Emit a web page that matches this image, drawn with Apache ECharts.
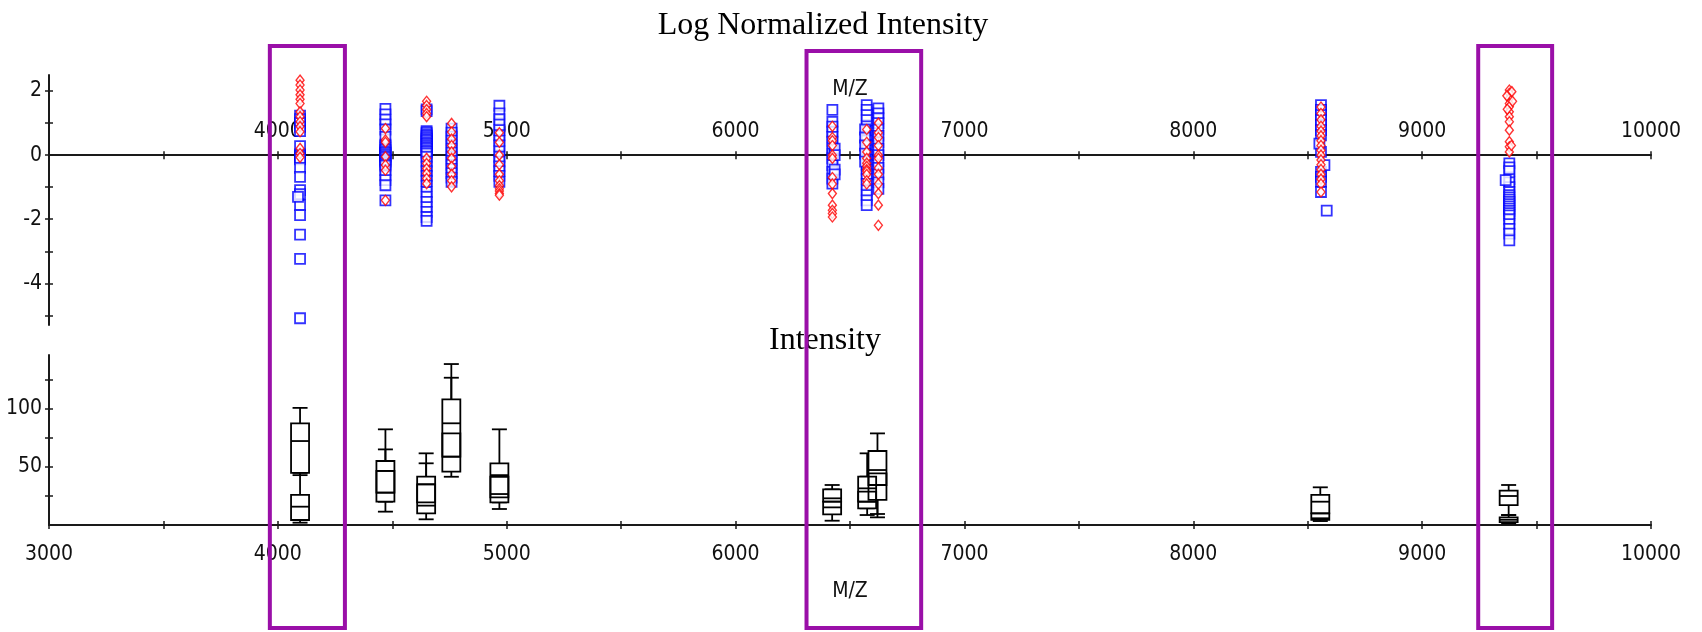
<!DOCTYPE html>
<html><head><meta charset="utf-8">
<script src="https://cdn.jsdelivr.net/npm/echarts@6/dist/echarts.min.js"></script>
<style>html,body{margin:0;padding:0;background:#fff;}#c{width:1702px;height:632px;}</style>
</head><body><div id="c"></div>
<script>
// ---------- DATA ----------
const peakMZ = [4097, 4470, 4650, 4759, 4968, 6423, 6573, 6624, 8558, 9381];
// Blue squares (log normalized intensity) per peak
const blueLog = [
  [1.23,1.12,1.0,0.88,0.75,0.28,0.02,-0.03,-0.08,-0.13,-0.4,-0.68,-1.09,-1.22,-1.56,-1.87,-2.48,-3.24,-5.09],
  [1.44,1.27,1.11,0.96,0.80,0.57,0.33,0.28,0.22,0.17,0.12,0.07,0.02,-0.03,-0.08,-0.13,-0.18,-0.23,-0.28,-0.33,-0.47,-0.63,-0.78,-0.94,-1.41],
  [1.43,1.37,0.75,0.70,0.65,0.60,0.55,0.50,0.45,0.40,0.35,0.30,0.25,0.20,0.15,0.10,0.05,-0.05,-0.2,-0.35,-0.5,-0.65,-0.8,-0.95,-1.15,-1.30,-1.46,-1.62,-1.77,-1.93,-2.05],
  [0.83,0.70,0.58,0.45,0.33,0.20,0.08,-0.05,-0.18,-0.30,-0.43,-0.56,-0.70,-0.83],
  [1.54,1.30,1.12,0.95,0.78,0.62,0.45,0.30,0.12,-0.05,-0.2,-0.35,-0.5,-0.65,-0.83],
  [1.41,1.04,0.89,0.73,0.57,0.42,0.21,0.05,-0.1,-0.31,-0.52,-0.73,-0.89],
  [1.56,1.41,1.25,1.09,0.9,0.75,0.6,0.45,0.3,0.15,0.0,-0.15,-0.3,-0.45,-0.6,-0.75,-0.9,-1.1,-1.25,-1.41,-1.56],
  [1.46,1.3,1.15,1.0,0.8,0.6,0.4,0.2,0.0,-0.2,-0.4,-0.6,-0.85,-1.05],
  [1.56,1.41,1.25,1.09,0.94,0.78,0.62,0.10,-0.52,-0.68,-0.83,-1.15],
  [-0.26,-0.38,-0.5,-0.75,-0.85,-1.0,-1.15,-1.25,-1.32,-1.39,-1.46,-1.53,-1.6,-1.67,-1.74,-1.81,-1.88,-2.0,-2.15,-2.3,-2.45,-2.66]
];
// Blue squares slightly off the peak column: [m/z, value]
const blueExtra = [[4088,-1.30],[6433,0.2],[6433,0.0],[6433,-0.45],[6433,-0.6],
  [6566,0.8],[6566,0.55],[6566,0.3],[6566,0.05],[6566,-0.2],
  [8551,0.36],[8573,-0.31],[8583,-1.73],[9365,-0.78]];
// Red diamonds per peak
const redLog = [
  [2.34,2.19,2.03,1.88,1.74,1.61,1.35,1.20,1.04,0.89,0.73,0.21,0.05,-0.07],
  [0.83,0.47,0.40,-0.05,-0.31,-0.47,-1.41],
  [1.68,1.55,1.42,1.30,1.2,-0.1,-0.26,-0.42,-0.57,-0.73,-0.89],
  [0.99,0.72,0.5,0.3,0.1,-0.1,-0.35,-0.6,-0.8,-0.99],
  [0.7,0.4,0.0,-0.3,-0.6,-0.8,-0.95,-1.05,-1.12,-1.2,-1.25],
  [0.9,0.55,0.45,0.3,0.0,-0.1,-0.7,-0.9,-1.2,-1.56,-1.72,-1.82,-1.93],
  [0.8,0.4,0.1,-0.1,-0.25,-0.35,-0.45,-0.5,-0.6,-0.8,-0.9],
  [1.0,0.7,0.55,0.3,0.0,-0.1,-0.4,-0.6,-0.9,-1.2,-1.56,-2.19],
  [1.5,1.3,1.1,0.9,0.75,0.6,0.45,0.3,0.15,0.0,-0.15,-0.3,-0.45,-0.6,-0.75,-0.9,-1.15],
  [2.03,1.93,1.77,1.61,1.51,1.35,1.2,1.04,0.78,0.42,0.26,0.1]
];
const redExtra = [[9392,1.98],[9370,1.85],[9395,1.68],[9372,1.43],[9390,0.3]];

// Box plots (intensity): [min, Q1, median, Q3, max]
const boxMZ = [4097, 4470, 4648, 4758, 4968, 6422, 6575, 6620, 8555, 9378];
const boxGroupA = [
  [43,45,72.4,87.7,101],[20.1,27.9,46.6,55.2,82.5],[13.8,19.5,35.1,41.7,61.8],
  [48.9,58.9,87.7,108.3,138.8],[19.5,23.9,43,53.2,82.5],[15.2,20.1,23,30.7,34.5],
  [14.4,20.1,31.6,41.7,61.8],[9.5,34.5,47.4,63.8,79],[5.8,10.1,20.1,25.9,32.5],
  [8.6,17.2,25,29.6,34.5]
];
const boxGroupB = [
  [2,4.3,15.8,25.9,45],[11.5,20.1,27.9,46.6,65.2],[4.9,10.1,16.7,35.1,53.2],
  [41.6,46,58.9,79,127],[13.8,19.5,26.7,41.6,43],[3.7,9.2,15.2,20.1,30.7],
  [8.6,14.4,20.1,28.7,41.7],[6.6,21.6,34.5,44.6,63.8],[3.4,4.5,5.8,10.1,20.1],
  [1.4,2.5,4.5,6.5,8.6]
];
// Axis ticks / labels
const mzLabelsTop = [4000,5000,6000,7000,8000,9000,10000];
const mzLabelsBottom = [3000,4000,5000,6000,7000,8000,9000,10000];
const logTicks = [-5,-4,-3,-2,-1,0,1,2];
const logLabels = [-4,-2,0,2];
const intTicks = [25,50,75,100,125];
const intLabels = [50,100];
// Highlighted m/z ranges (purple frames)
const highlightMZ = [[3965,4293],[6310,6811],[9245,9568]];

// ---------- BUILD ----------
const blueData = [], redData = [];
peakMZ.forEach((mz,i)=>{ blueLog[i].forEach(v=>blueData.push([mz,v])); redLog[i].forEach(v=>redData.push([mz,v])); });
blueExtra.forEach(p=>blueData.push(p));
redExtra.forEach(p=>redData.push(p));
const boxData = [];
boxMZ.forEach((mz,i)=>{ boxData.push([mz].concat(boxGroupB[i])); boxData.push([mz].concat(boxGroupA[i])); });

const FONT = "'Liberation Sans Narrow','DejaVu Sans Condensed','Liberation Sans',sans-serif";
const SERIF = "'Liberation Serif','Times New Roman',serif";
const AX = '#1a1a1a';
const plain = v => String(v);
const lblStyle = {color:'#111', fontFamily: FONT, fontSize: 21, formatter: plain};

// top panel geometry: y range -5.3..2.5 over 250px -> zero line offset from top
const TOP_MIN = -5.3, TOP_MAX = 2.5, TOP_H = 250;
const zeroOffset = -TOP_MAX / (TOP_MAX - TOP_MIN) * TOP_H;

function xAxisMain(grid, pos, labels, margin, nameGap, offset){
  return {gridIndex:grid, type:'value', min:3000, max:10000, interval:500, position:pos, offset:offset,
    name:'M/Z', nameLocation:'middle', nameGap:nameGap, nameTextStyle:{color:'#111', fontFamily:FONT, fontSize:21},
    axisLine:{show:true, onZero:false, lineStyle:{color:AX, width:2}},
    axisTick:{show:true, length:4, lineStyle:{color:AX, width:1.5}},
    axisLabel:Object.assign({show:true, margin:margin, customValues:labels}, lblStyle),
    splitLine:{show:false}};
}
function xAxisDup(grid, pos, offset){
  return {gridIndex:grid, type:'value', min:3000, max:10000, interval:500, position:pos, offset:offset,
    axisLine:{show:false, onZero:false}, axisTick:{show:true, inside:true, length:4, lineStyle:{color:AX, width:1.5}},
    axisLabel:{show:false}, splitLine:{show:false}};
}
function yAxisMain(grid, min, max, ticks, labels){
  return {gridIndex:grid, type:'value', min:min, max:max, position:'left',
    axisLine:{show:true, onZero:false, lineStyle:{color:AX, width:2}},
    axisTick:{show:true, length:4, customValues:ticks, lineStyle:{color:AX, width:1.5}},
    axisLabel:Object.assign({show:true, margin:7, customValues:labels}, lblStyle),
    splitLine:{show:false}};
}
function yAxisDup(grid, min, max, ticks){
  return {gridIndex:grid, type:'value', min:min, max:max, position:'left',
    axisLine:{show:false, onZero:false}, axisTick:{show:true, inside:true, length:4, customValues:ticks, lineStyle:{color:AX, width:1.5}},
    axisLabel:{show:false}, splitLine:{show:false}};
}

const option = {
  backgroundColor:'#fff',
  animation:false,
  title:[
    {text:'Log Normalized Intensity', left:823, top:10, textAlign:'center', padding:0,
     textStyle:{fontFamily:SERIF, fontSize:32, fontWeight:'normal', color:'#000'}},
    {text:'Intensity', left:825, top:325, textAlign:'center', padding:0,
     textStyle:{fontFamily:SERIF, fontSize:32, fontWeight:'normal', color:'#000'}}
  ],
  grid:[
    {left:49, top:75, width:1602, height:TOP_H},
    {left:49, top:355, width:1602, height:170}
  ],
  xAxis:[
    xAxisMain(0,'top',mzLabelsTop,13,55,zeroOffset),
    xAxisDup(0,'top',zeroOffset),
    xAxisMain(1,'bottom',mzLabelsBottom,19,56,0),
    xAxisDup(1,'bottom',0)
  ],
  yAxis:[
    yAxisMain(0,TOP_MIN,TOP_MAX,logTicks,logLabels),
    yAxisDup(0,TOP_MIN,TOP_MAX,logTicks),
    yAxisMain(1,0,146.6,intTicks,intLabels),
    yAxisDup(1,0,146.6,intTicks)
  ],
  series:[
    {type:'scatter', xAxisIndex:0, yAxisIndex:0, data:blueData, symbol:'rect', symbolSize:10,
     itemStyle:{color:'#fff', borderColor:'#0000ff', borderWidth:1.8}, emphasis:{disabled:true}, z:3},
    {type:'scatter', xAxisIndex:0, yAxisIndex:0, data:redData, symbol:'diamond', symbolSize:[8,10],
     itemStyle:{color:'#fff', borderColor:'#ff0000', borderWidth:1.4}, emphasis:{disabled:true}, z:4},
    {type:'custom', xAxisIndex:2, yAxisIndex:2, data:boxData, z:3,
     renderItem:function(params, api){
       const x = api.value(0);
       const p = [1,2,3,4,5].map(k=>api.coord([x, api.value(k)]));
       const cx = p[0][0];
       const hw = 9, cw = 7.5;
       const ls = {stroke:'#000', lineWidth:1.8, fill:null};
       return {type:'group', children:[
         {type:'line', z2:0, shape:{x1:cx,y1:p[4][1],x2:cx,y2:p[3][1]}, style:ls},
         {type:'line', z2:0, shape:{x1:cx,y1:p[1][1],x2:cx,y2:p[0][1]}, style:ls},
         {type:'line', z2:0, shape:{x1:cx-cw,y1:p[4][1],x2:cx+cw,y2:p[4][1]}, style:ls},
         {type:'line', z2:0, shape:{x1:cx-cw,y1:p[0][1],x2:cx+cw,y2:p[0][1]}, style:ls},
         {type:'rect', z2:1, shape:{x:cx-hw,y:p[3][1],width:2*hw,height:p[1][1]-p[3][1]}, style:{fill:'#fff', stroke:null}},
         {type:'rect', z2:2, shape:{x:cx-hw,y:p[3][1],width:2*hw,height:p[1][1]-p[3][1]}, style:{fill:null, stroke:'#000', lineWidth:1.8}},
         {type:'line', z2:2, shape:{x1:cx-hw,y1:p[2][1],x2:cx+hw,y2:p[2][1]}, style:ls}
       ]};
     }}
  ]
};

const chart = echarts.init(document.getElementById('c'), null, {renderer:'canvas', width:1702, height:632});
chart.setOption(option);

// purple highlight frames spanning both panels
const frameTop = [46, 51, 46];
const frames = highlightMZ.map((r,i)=>{
  const x1 = chart.convertToPixel({xAxisIndex:0}, r[0]);
  const x2 = chart.convertToPixel({xAxisIndex:0}, r[1]);
  return {type:'rect', z:100, shape:{x:x1, y:frameTop[i], width:x2-x1, height:628-frameTop[i]},
    style:{fill:null, stroke:'#9a0fa8', lineWidth:4}};
});
chart.setOption({graphic:frames});
</script></body></html>
